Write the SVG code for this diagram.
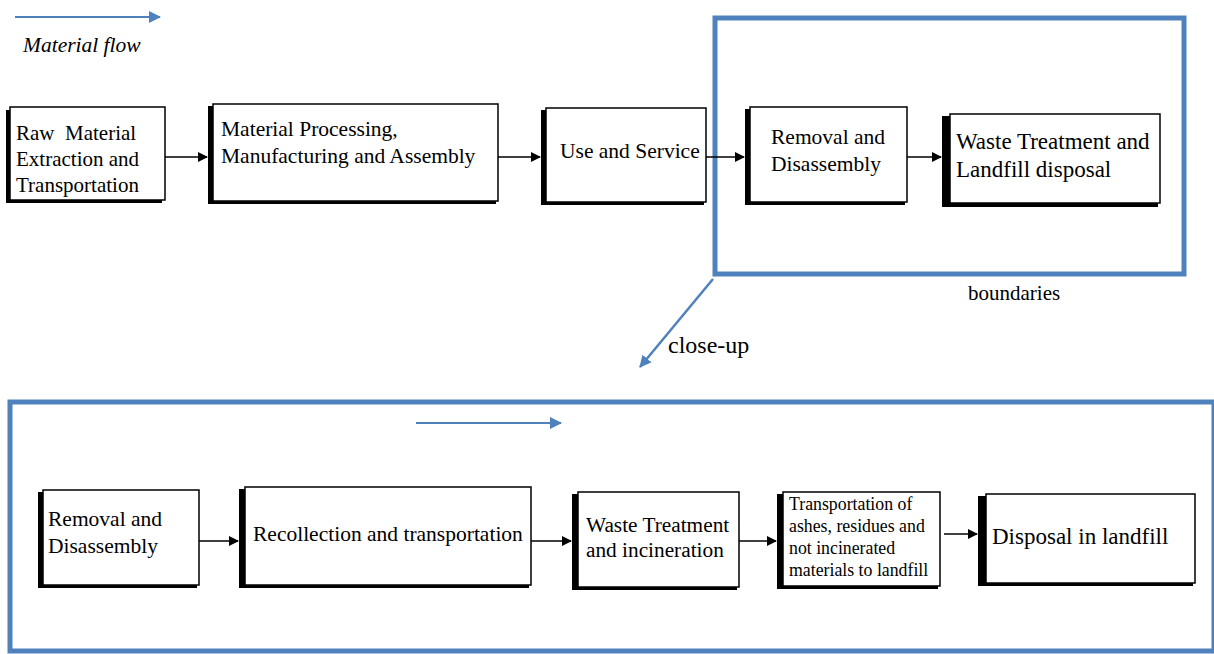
<svg xmlns="http://www.w3.org/2000/svg" width="1214" height="654" viewBox="0 0 1214 654">
<defs>
<style>
.box{fill:#fff;stroke:#000;stroke-width:1.5}
.sh{fill:#000}
.t{font-family:"Liberation Serif","Times New Roman",serif;fill:#000}
.conn{stroke:#000;stroke-width:1.5;fill:none}
.blue{stroke:#4F81BD;fill:none}
</style>
<marker id="ah" markerWidth="10" markerHeight="10" refX="9" refY="5" orient="auto" markerUnits="userSpaceOnUse">
<path d="M0,0 L10,5 L0,10 Z" fill="#000"/>
</marker>
<marker id="bh" markerWidth="12" markerHeight="12" refX="11" refY="6" orient="auto" markerUnits="userSpaceOnUse">
<path d="M0,0 L12,6 L0,12 Z" fill="#4F81BD"/>
</marker>
</defs>
<rect width="1214" height="654" fill="#fff"/>

<g id="legend">
<line class="blue" x1="15" y1="17" x2="160" y2="17" stroke-width="2" marker-end="url(#bh)"/>
<text class="t" x="23" y="52" font-size="21.5" font-style="italic">Material flow</text>
</g>

<g id="boundary">
<rect class="blue" x="715" y="18" width="469" height="256" stroke-width="5"/>
<text class="t" x="968" y="300" font-size="21">boundaries</text>
</g>

<g id="closeup-frame">
<rect class="blue" x="10" y="402" width="1204" height="249" stroke-width="5"/>
<line class="blue" x1="416" y1="423" x2="561" y2="423" stroke-width="2" marker-end="url(#bh)"/>
</g>

<g id="n1">
<rect class="sh" x="6" y="110" width="156" height="93"/>
<rect class="box" x="10" y="107" width="155" height="93"/>
<text class="t" x="16" y="140" font-size="21"><tspan x="16">Raw&#160; Material</tspan><tspan x="16" y="166">Extraction and</tspan><tspan x="16" y="192">Transportation</tspan></text>
</g>

<g id="n2">
<rect class="sh" x="208" y="106" width="288" height="98"/>
<rect class="box" x="213" y="104" width="285" height="97"/>
<text class="t" x="221" y="136" font-size="21.5"><tspan x="221">Material Processing,</tspan><tspan x="221" y="163">Manufacturing and Assembly</tspan></text>
</g>

<g id="n3">
<rect class="sh" x="541" y="110" width="163" height="95"/>
<rect class="box" x="546" y="108" width="160" height="94"/>
<text class="t" x="560" y="158" font-size="21.5">Use and Service</text>
</g>

<g id="n4">
<rect class="sh" x="745" y="109" width="160" height="96"/>
<rect class="box" x="750" y="107" width="157" height="95"/>
<text class="t" x="771" y="144" font-size="21.5"><tspan x="771">Removal and</tspan><tspan x="771" y="171">Disassembly</tspan></text>
</g>

<g id="n5">
<rect class="sh" x="942" y="116" width="216" height="91"/>
<rect class="box" x="950" y="114" width="210" height="89"/>
<text class="t" x="956" y="149" font-size="23"><tspan x="956">Waste Treatment and</tspan><tspan x="956" y="177">Landfill disposal</tspan></text>
</g>

<g id="m1">
<rect class="sh" x="38" y="492" width="159" height="96"/>
<rect class="box" x="43" y="490" width="156" height="95"/>
<text class="t" x="48" y="526" font-size="21.5"><tspan x="48">Removal and</tspan><tspan x="48" y="553">Disassembly</tspan></text>
</g>

<g id="m2">
<rect class="sh" x="239" y="489" width="290" height="99"/>
<rect class="box" x="245" y="487" width="286" height="98"/>
<text class="t" x="253" y="541" font-size="21.5">Recollection and transportation</text>
</g>

<g id="m3">
<rect class="sh" x="572" y="494" width="165" height="96"/>
<rect class="box" x="578" y="492" width="161" height="95"/>
<text class="t" x="586" y="532" font-size="21.3"><tspan x="586">Waste Treatment</tspan><tspan x="586" y="557">and incineration</tspan></text>
</g>

<g id="m4">
<rect class="sh" x="777" y="494" width="161" height="95"/>
<rect class="box" x="783" y="492" width="157" height="94"/>
<text class="t" x="789" y="510" font-size="17.8"><tspan x="789">Transportation of</tspan><tspan x="789" y="532">ashes, residues and</tspan><tspan x="789" y="554">not incinerated</tspan><tspan x="789" y="576">materials to landfill</tspan></text>
</g>

<g id="m5">
<rect class="sh" x="978" y="496" width="215" height="90"/>
<rect class="box" x="986" y="494" width="209" height="89"/>
<text class="t" x="992" y="544" font-size="23">Disposal in landfill</text>
</g>

<g id="connectors">
<line class="conn" x1="165" y1="157" x2="207" y2="157" marker-end="url(#ah)"/>
<line class="conn" x1="498" y1="157" x2="540" y2="157" marker-end="url(#ah)"/>
<line class="conn" x1="706" y1="157" x2="744" y2="157" marker-end="url(#ah)"/>
<line class="conn" x1="907" y1="157" x2="941" y2="157" marker-end="url(#ah)"/>
<line class="conn" x1="199" y1="541" x2="238" y2="541" marker-end="url(#ah)"/>
<line class="conn" x1="531" y1="541" x2="571" y2="541" marker-end="url(#ah)"/>
<line class="conn" x1="739" y1="541" x2="776" y2="541" marker-end="url(#ah)"/>
<line class="conn" x1="944" y1="534" x2="977" y2="534" marker-end="url(#ah)"/>
<line class="blue" x1="713" y1="279" x2="640" y2="367" stroke-width="2.5" marker-end="url(#bh)"/>
<text class="t" x="668" y="353" font-size="24">close-up</text>
</g>
</svg>
